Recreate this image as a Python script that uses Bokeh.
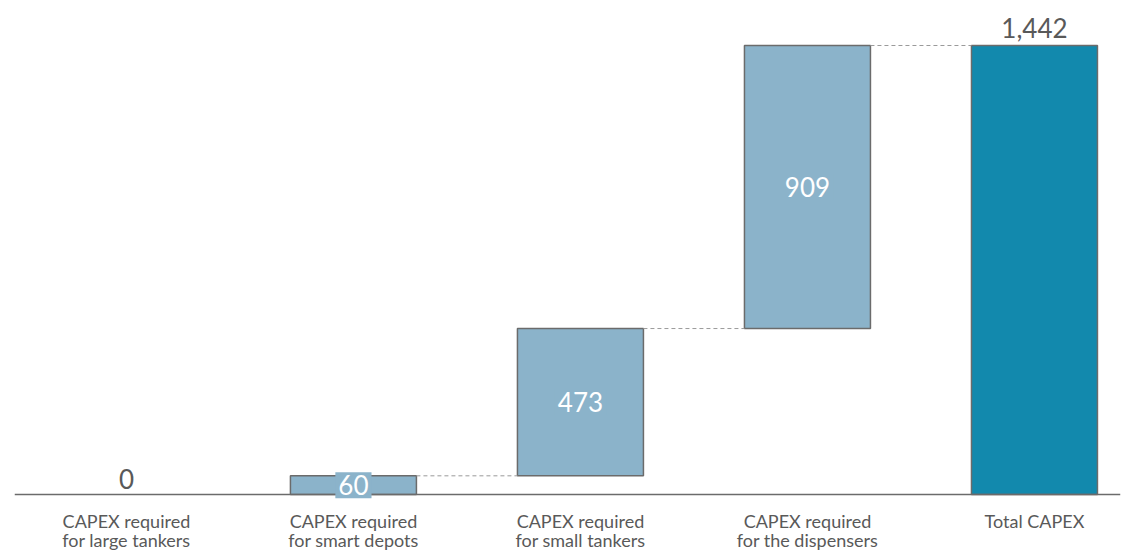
from bokeh.plotting import figure
from bokeh.models import Range1d, Label, ColumnDataSource, Span
from bokeh.core.properties import value
from bokeh.embed import file_html
from bokeh.resources import INLINE

cat_line1 = ["CAPEX required", "CAPEX required", "CAPEX required", "CAPEX required", "Total CAPEX"]
cat_line2 = ["for large tankers", "for smart depots", "for small tankers", "for the dispensers", ""]
values = [0, 60, 473, 909]

total = sum(values)
inc_color = "#8BB3CA"
tot_color = "#1289AD"
edge_color = "#6b6b6b"
text_color = "#595959"
FONT = "Lato"

PX_PER_UNIT = 449 / 1442
YMAX = 494 / PX_PER_UNIT
YMIN = -56 / PX_PER_UNIT

p = figure(width=1133, height=550, output_backend="svg", toolbar_location=None,
           x_range=Range1d(-0.493, 4.379), y_range=Range1d(YMIN, YMAX),
           min_border_left=14, min_border_right=13, min_border_top=0, min_border_bottom=0)
p.outline_line_color = None
p.grid.visible = False
p.axis.visible = False
p.background_fill_color = "white"
p.border_fill_color = "white"

# waterfall geometry from data
bw = 0.555
xs, bottoms, tops = [], [], []
cum = 0
for i, v in enumerate(values):
    xs.append(i)
    bottoms.append(cum)
    tops.append(cum + v)
    cum += v

inc = ColumnDataSource(dict(
    left=[x - bw / 2 for x, v in zip(xs, values) if v > 0],
    right=[x + bw / 2 for x, v in zip(xs, values) if v > 0],
    bottom=[b for b, v in zip(bottoms, values) if v > 0],
    top=[t for t, v in zip(tops, values) if v > 0],
))
p.quad(left="left", right="right", bottom="bottom", top="top", source=inc,
       fill_color=inc_color, line_color=edge_color, line_width=1.5)

ti = len(values)
p.quad(left=[ti - bw / 2], right=[ti + bw / 2], bottom=[0], top=[total],
       fill_color=tot_color, line_color=edge_color, line_width=1.5)

# baseline
p.add_layout(Span(location=0, dimension="width", line_color=edge_color, line_width=1.5))

# connectors
for i in range(1, len(values)):
    if tops[i] <= 0:
        continue
    x0 = xs[i] + bw / 2
    x1 = (xs[i + 1] if i + 1 < len(values) else ti) - bw / 2
    p.line([x0, x1], [tops[i], tops[i]], line_color="#9a9a9a", line_dash="4 3", line_width=1)

# value labels
VFS = "26px"
for i, v in enumerate(values):
    if v == 0:
        p.add_layout(Label(x=xs[i], y=tops[i], y_offset=6, text=f"{v:,}",
                           text_align="center", text_baseline="bottom",
                           text_font=FONT, text_font_size=VFS, text_color=text_color))
    else:
        p.add_layout(Label(x=xs[i], y=(bottoms[i] + tops[i]) / 2, text=f"{v:,}",
                           text_align="center", text_baseline="middle",
                           text_font=FONT, text_font_size=VFS, text_color="white",
                           background_fill_color=inc_color, padding=3))
p.add_layout(Label(x=ti, y=total, y_offset=8, text=f"{total:,}",
                   text_align="center", text_baseline="bottom",
                   text_font=FONT, text_font_size=VFS, text_color=text_color))

# category labels
cx = list(range(len(cat_line1)))
p.text(x=cx, y=[-26 / PX_PER_UNIT] * len(cx), text=cat_line1,
       text_align="center", text_baseline="middle",
       text_font=value(FONT), text_font_size="18px", text_color=text_color)
p.text(x=cx, y=[-45 / PX_PER_UNIT] * len(cx), text=cat_line2,
       text_align="center", text_baseline="middle",
       text_font=value(FONT), text_font_size="18px", text_color=text_color)

open("out.html", "w").write(file_html(p, INLINE))
